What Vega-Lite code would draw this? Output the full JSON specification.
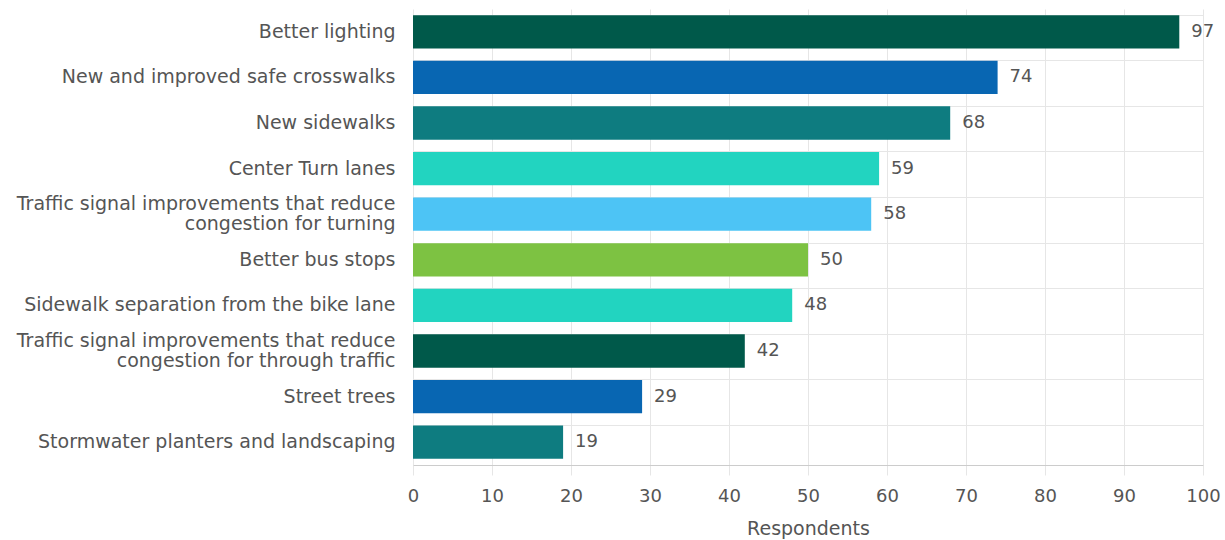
{
  "$schema": "https://vega.github.io/schema/vega-lite/v6.json",
  "width": 790,
  "height": 456,
  "autosize": {"type": "none"},
  "padding": {"left": 413, "top": 9, "right": 22, "bottom": 75},
  "background": "white",
  "config": {
    "view": {"stroke": null},
    "font": "DejaVu Sans",
    "axis": {"labelFont": "DejaVu Sans", "titleFont": "DejaVu Sans", "labelColor": "#555555", "titleColor": "#555555"}
  },
  "data": {
    "values": [
      {"item": "Better lighting", "respondents": 97},
      {"item": "New and improved safe crosswalks", "respondents": 74},
      {"item": "New sidewalks", "respondents": 68},
      {"item": "Center Turn lanes", "respondents": 59},
      {"item": "Traffic signal improvements that reduce congestion for turning", "respondents": 58},
      {"item": "Better bus stops", "respondents": 50},
      {"item": "Sidewalk separation from the bike lane", "respondents": 48},
      {"item": "Traffic signal improvements that reduce congestion for through traffic", "respondents": 42},
      {"item": "Street trees", "respondents": 29},
      {"item": "Stormwater planters and landscaping", "respondents": 19}
    ]
  },
  "encoding": {
    "y": {
      "field": "item",
      "type": "nominal",
      "sort": null,
      "scale": {"paddingInner": 0.27, "paddingOuter": 0.135},
      "axis": {
        "title": null,
        "domain": false,
        "ticks": false,
        "grid": true,
        "bandPosition": 0,
        "gridColor": "#e6e6e6",
        "labelFontSize": 19,
        "labelPadding": 18,
        "labelLimit": 500,
        "labelLineHeight": 20,
        "labelOffset": {"condition": {"test": "indexof(datum.value, 'reduce ') > 0", "value": -10}, "value": 0},
        "labelExpr": "indexof(datum.label, 'reduce ') > 0 ? [substring(datum.label, 0, indexof(datum.label, 'reduce ') + 6), substring(datum.label, indexof(datum.label, 'reduce ') + 7)] : datum.label"
      }
    },
    "x": {
      "field": "respondents",
      "type": "quantitative",
      "scale": {"domain": [0, 100], "nice": false},
      "axis": {
        "title": "Respondents",
        "values": [0, 10, 20, 30, 40, 50, 60, 70, 80, 90, 100],
        "grid": true,
        "gridColor": "#e6e6e6",
        "domainColor": "#cccccc",
        "tickColor": "#e6e6e6",
        "tickSize": 10,
        "labelFlush": false,
        "labelFontSize": 18,
        "labelPadding": 12,
        "titleFontSize": 19,
        "titleFontWeight": "normal",
        "titlePadding": 14
      }
    }
  },
  "layer": [
    {
      "mark": {"type": "bar"},
      "encoding": {
        "color": {
          "field": "item",
          "type": "nominal",
          "legend": null,
          "scale": {
            "domain": [
              "Better lighting",
              "New and improved safe crosswalks",
              "New sidewalks",
              "Center Turn lanes",
              "Traffic signal improvements that reduce congestion for turning",
              "Better bus stops",
              "Sidewalk separation from the bike lane",
              "Traffic signal improvements that reduce congestion for through traffic",
              "Street trees",
              "Stormwater planters and landscaping"
            ],
            "range": ["#00594a", "#0866b2", "#0e7c80", "#22d4c0", "#4dc4f5", "#7dc242", "#22d4c0", "#00594a", "#0866b2", "#0e7c80"]
          }
        }
      }
    },
    {
      "mark": {"type": "text", "align": "left", "baseline": "middle", "dx": 12, "fontSize": 18, "color": "#555555"},
      "encoding": {"text": {"field": "respondents", "type": "quantitative"}}
    }
  ]
}
